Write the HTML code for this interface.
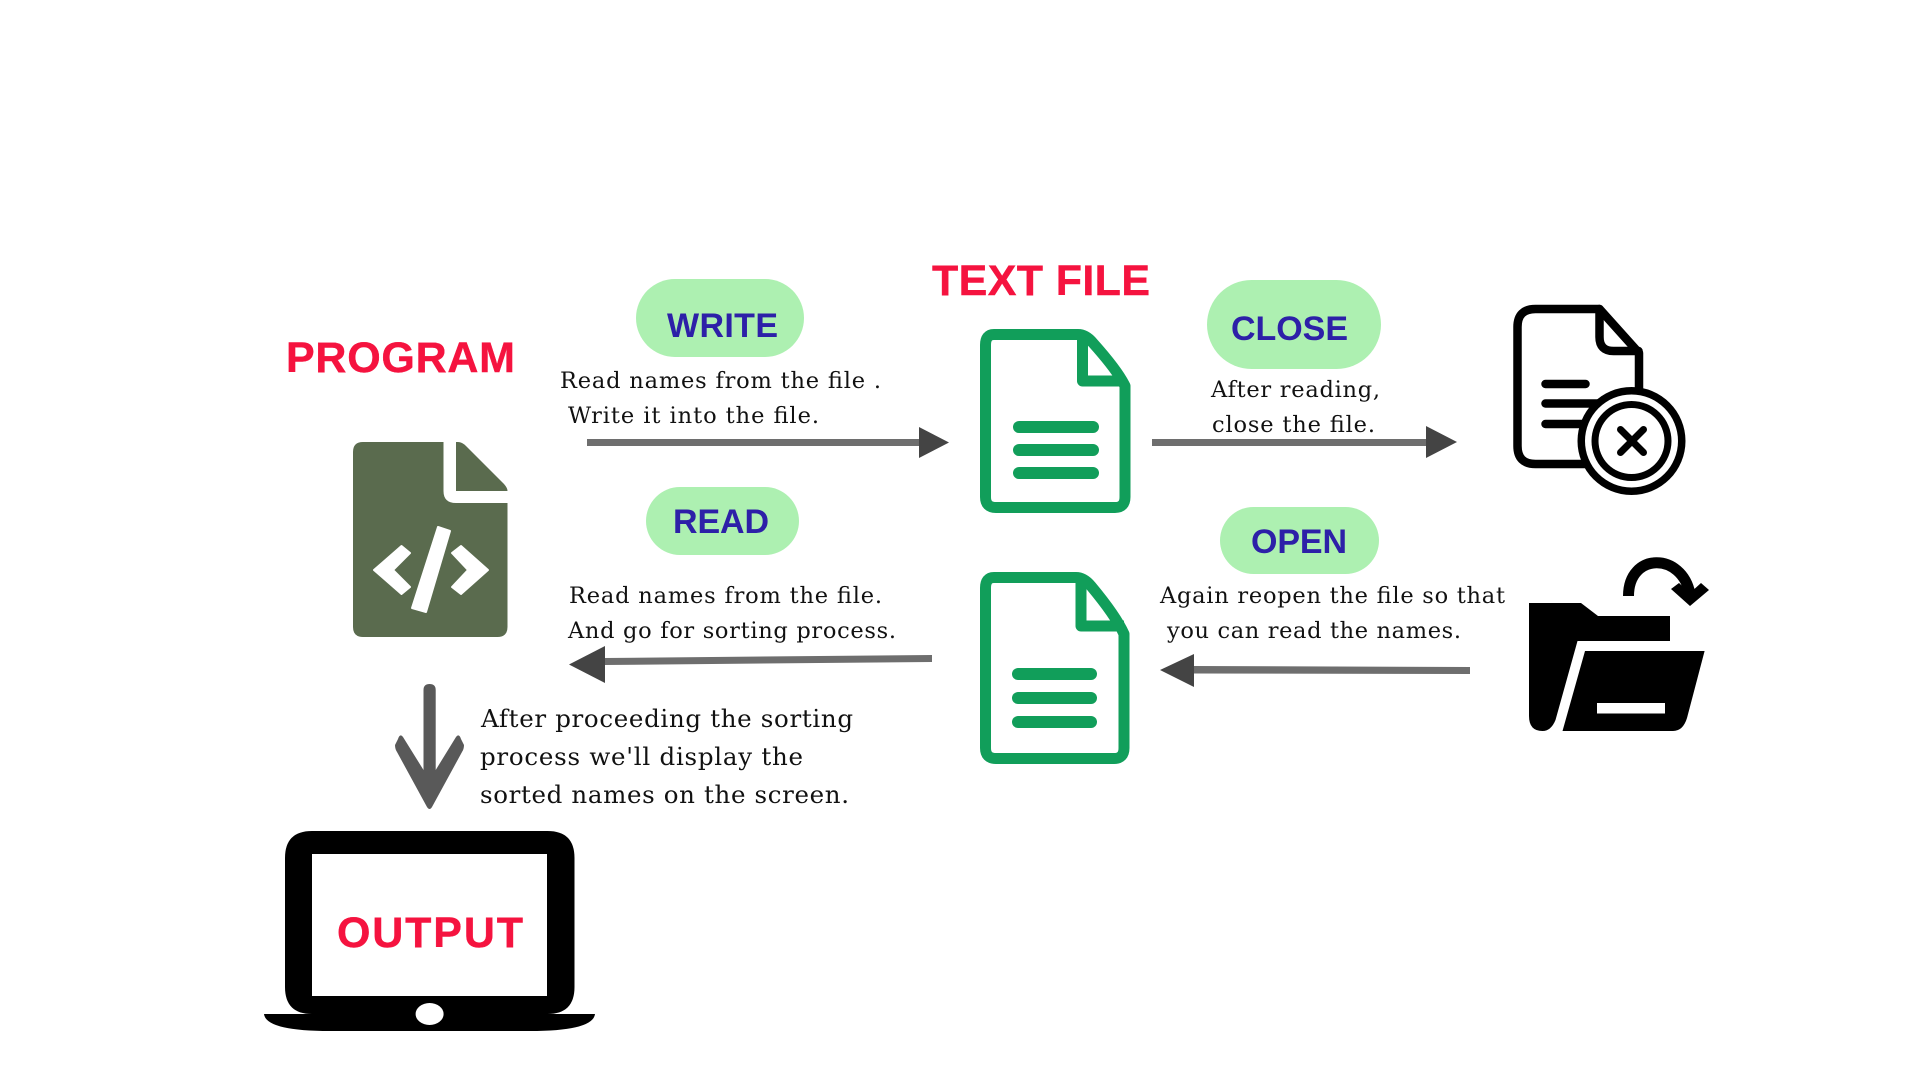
<!DOCTYPE html>
<html>
<head>
<meta charset="utf-8">
<style>
html,body{margin:0;padding:0;background:#fff;width:1920px;height:1080px;overflow:hidden}
svg{display:block}
.h{font-family:"Liberation Sans",sans-serif;font-weight:700;font-size:43px;fill:#f5133f;stroke:#f5133f;stroke-width:.4}
.p{font-family:"Liberation Sans",sans-serif;font-weight:700;font-size:34px;fill:#2d20a8}
.t{font-family:"DejaVu Serif","Liberation Serif",serif;font-size:22.5px;fill:#111}
.u{font-family:"DejaVu Serif","Liberation Serif",serif;font-size:24.5px;fill:#111}
</style>
</head>
<body>
<svg width="1920" height="1080" viewBox="0 0 1920 1080" xmlns="http://www.w3.org/2000/svg">
<rect width="1920" height="1080" fill="#fff"/>

<!-- headings -->
<text class="h" x="286" y="372" textLength="229">PROGRAM</text>
<text class="h" x="932" y="295" textLength="218">TEXT FILE</text>

<!-- pills -->
<rect x="636" y="279" width="168" height="78" rx="39" fill="#adf0b1"/>
<rect x="646" y="487" width="153" height="68" rx="34" fill="#adf0b1"/>
<rect x="1207" y="280" width="174" height="89" rx="44.5" fill="#adf0b1"/>
<rect x="1220" y="507" width="159" height="67" rx="33.5" fill="#adf0b1"/>
<text class="p" x="667" y="337" textLength="111">WRITE</text>
<text class="p" x="673" y="533" textLength="96">READ</text>
<text class="p" x="1231" y="340" textLength="117">CLOSE</text>
<text class="p" x="1251" y="553" textLength="96">OPEN</text>

<!-- descriptions -->
<text class="t" x="560" y="388" textLength="321">Read names from the file .</text>
<text class="t" x="568" y="423" textLength="251">Write it into the file.</text>
<text class="t" x="569" y="603" textLength="313">Read names from the file.</text>
<text class="t" x="568" y="638" textLength="328">And go for sorting process.</text>
<text class="t" x="1211" y="397" textLength="169">After reading,</text>
<text class="t" x="1212" y="432" textLength="163">close the file.</text>
<text class="t" x="1160" y="603" textLength="345">Again reopen the file so that</text>
<text class="t" x="1167" y="638" textLength="294">you can read the names.</text>
<text class="u" x="481" y="727" textLength="372">After proceeding the sorting</text>
<text class="u" x="480" y="765" textLength="323">process we'll display the</text>
<text class="u" x="480" y="803" textLength="369">sorted names on the screen.</text>

<!-- arrows -->
<rect x="587" y="439" width="334" height="7" fill="#6e6e6e"/>
<polygon points="919,427 949,442.5 919,458" fill="#444"/>
<rect x="1152" y="439" width="275" height="7" fill="#6e6e6e"/>
<polygon points="1426,426 1457,442 1426,458" fill="#444"/>
<polygon points="932,655 932,662 604,665 604,658" fill="#6e6e6e"/>
<polygon points="605,646 569,664.5 605,683" fill="#444"/>
<polygon points="1470,667 1470,674 1192,673.5 1192,666" fill="#6e6e6e"/>
<polygon points="1194,654 1160,670 1194,687" fill="#444"/>
<path d="M423.5,690 Q423.5,684 429.6,684 Q435.7,684 435.7,690 V770 L456,737 Q459,733 461,739 L464,745 Q464,749 462,752 L432,807 Q429.6,811 427,807 L397,752 Q395,749 395,745 L398,739 Q400,733 403,737 L423.5,770 Z" fill="#595959"/>

<!-- program icon -->
<path d="M363,442 H443.5 V491 Q443.5,503 456,503 H507.5 V627 Q507.5,637 497.5,637 H363 Q353,637 353,627 V452 Q353,442 363,442 Z" fill="#5a6b4e"/>
<path d="M456,442 H458 Q462,442 466,446 L504,484 Q507.5,488 507.5,491 H456 Z" fill="#5a6b4e"/>
<g fill="#fff" stroke="#fff" stroke-width="2" stroke-linejoin="round">
<polygon points="374,570 401.5,546 410,553 393,570 410,587 401.5,594"/>
<polygon points="488,570 461,546 452,553 468,570 452,587 461,594"/>
<polygon points="438,527 450,531 426,612 412,608"/>
</g>

<!-- green doc 1 -->
<g fill="none" stroke="#119e5a" stroke-width="11" stroke-linejoin="round">
<path d="M994,334.5 H1078 Q1086,334.5 1093,343 Q1118,371 1125,386 V497 Q1125,507.5 1115,507.5 H996 Q985.5,507.5 985.5,497 V345 Q985.5,334.5 994,334.5 Z"/>
<path d="M1082.5,336 V381 H1125"/>
</g>
<g fill="#119e5a">
<rect x="1013" y="421" width="86" height="12" rx="6"/>
<rect x="1013" y="444" width="86" height="12" rx="6"/>
<rect x="1013" y="467" width="86" height="12" rx="6"/>
</g>

<!-- green doc 2 -->
<g fill="none" stroke="#119e5a" stroke-width="11" stroke-linejoin="round">
<path d="M994,577.5 H1076 Q1084,577.5 1091,586 Q1116,616 1124,634 V748 Q1124,758.5 1114,758.5 H996 Q985.5,758.5 985.5,748 V588 Q985.5,577.5 994,577.5 Z"/>
<path d="M1081,579 V626 H1124"/>
</g>
<g fill="#119e5a">
<rect x="1012" y="668" width="85" height="12" rx="6"/>
<rect x="1012" y="692" width="85" height="12" rx="6"/>
<rect x="1012" y="716" width="85" height="12" rx="6"/>
</g>

<!-- close doc -->
<g transform="translate(-1.5,0)">
<g fill="none" stroke="#000" stroke-width="8.5" stroke-linejoin="round" stroke-linecap="round">
<path d="M1590,464 H1537 Q1519,464 1519,446 V327 Q1519,309 1537,309 H1601 L1640.5,353 V400"/>
<path d="M1601,309 V337 Q1601,351 1615,351 H1640"/>
<path d="M1547,384 H1587"/>
<path d="M1547,403.5 H1600"/>
<path d="M1547,424 H1590"/>
</g>
<circle cx="1633" cy="441" r="54" fill="#000"/>
<circle cx="1633" cy="441" r="46.5" fill="#fff"/>
<circle cx="1633" cy="441" r="40" fill="#000"/>
<circle cx="1633" cy="441" r="33" fill="#fff"/>
<path d="M1622,429.5 L1645,452.5 M1645,429.5 L1622,452.5" stroke="#000" stroke-width="7" stroke-linecap="round" fill="none"/>
</g>

<!-- folder -->
<g transform="translate(-2,0)">
<path d="M1531,603 H1583 L1600,616 H1672 V641 H1579.5 L1557.5,720 Q1553,731 1544.5,731 Q1531,731 1531,716 Z" fill="#000"/>
<path d="M1587,651 H1706.6 L1689,718 Q1685,731 1675,731 H1564.5 Z" fill="#000"/>
<rect x="1599" y="703" width="68" height="10.5" fill="#fff"/>
<path d="M1630.5,596 C1630.5,552 1684,552 1692,594" fill="none" stroke="#000" stroke-width="11"/>
<polygon points="1673,589 1692,606 1711,590 1703,583 1692,593 1681,583" fill="#000"/>
</g>

<!-- laptop -->
<path d="M312,831 H547.5 Q574.5,831 574.5,858 V987 Q574.5,1014 547.5,1014 H595 Q593,1031 530,1031 H330 Q266,1031 264,1014 H312 Q285,1014 285,987 V858 Q285,831 312,831 Z" fill="#000"/>
<rect x="312" y="854" width="235" height="142" fill="#fff"/>
<ellipse cx="429.6" cy="1014" rx="14" ry="11" fill="#fff"/>
<text class="h" x="337" y="947" textLength="186">OUTPUT</text>
</svg>
</body>
</html>
